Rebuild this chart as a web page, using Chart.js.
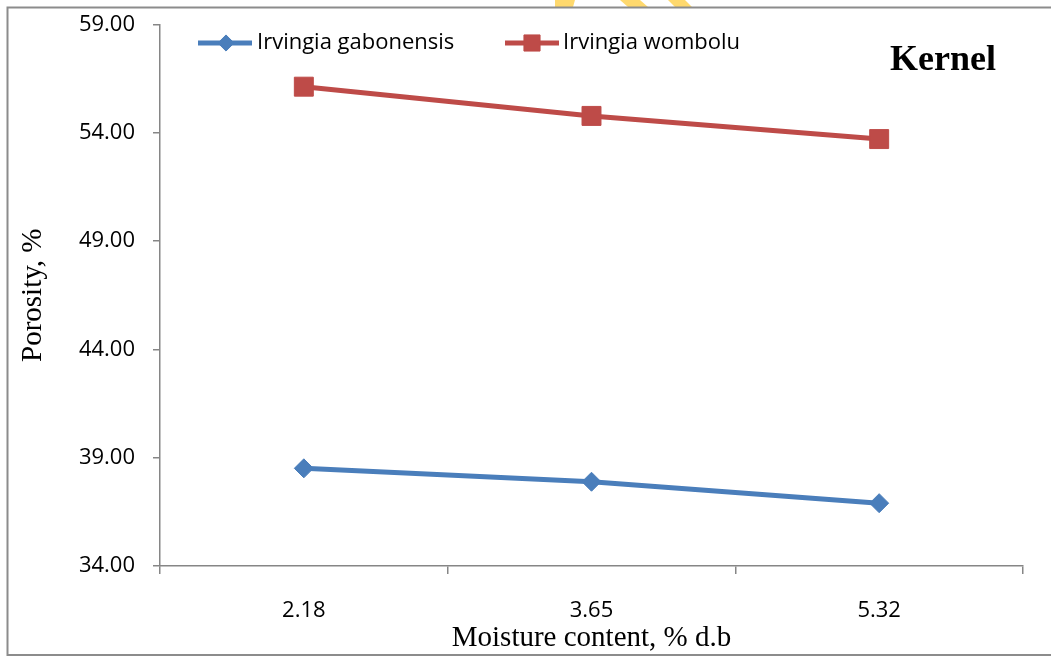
<!DOCTYPE html>
<html>
<head>
<meta charset="utf-8">
<script src="https://cdn.jsdelivr.net/npm/chart.js@4.4.1/dist/chart.umd.min.js"></script>
<style>
  html, body { margin: 0; padding: 0; background: #ffffff; }
  #wrap { width: 1051px; height: 656px; position: relative; }
</style>
</head>
<body>
<div id="wrap"><canvas id="c" width="1051" height="656"></canvas></div>
<script>
const categories = ['2.18', '3.65', '5.32'];
const gabonensis = [38.51, 37.89, 36.90];
const wombolu = [56.13, 54.78, 53.71];
const seriesNames = ['Irvingia gabonensis', 'Irvingia wombolu'];
const yTicks = { min: 34, max: 59, step: 5 };
const chartTitle = 'Kernel';
const xTitle = 'Moisture content, % d.b';
const yTitle = 'Porosity, %';

const BLUE = '#4A7EBB';
const RED = '#BE4B48';
const AXIS = '#868686';
const TICKFONT = { family: '"Open Sans", sans-serif', size: 22 };

const framePlugin = {
  id: 'frame',
  beforeDraw(chart) {
    const ctx = chart.ctx;
    ctx.save();
    ctx.fillStyle = '#ffffff';
    ctx.fillRect(0, 0, chart.width, chart.height);
    ctx.fillStyle = '#FFD96E';
    [[[555,0],[575,0],[573,7],[555,7]],
     [[620,0],[640,0],[648,7],[628,7]],
     [[668,0],[685,0],[692,7],[675,7]]].forEach(poly => {
      ctx.beginPath();
      ctx.moveTo(poly[0][0], poly[0][1]);
      for (let i = 1; i < poly.length; i++) ctx.lineTo(poly[i][0], poly[i][1]);
      ctx.closePath();
      ctx.fill();
    });
    ctx.strokeStyle = '#8C8C8C';
    ctx.lineWidth = 2;
    ctx.beginPath();
    ctx.moveTo(1051, 7.5);
    ctx.lineTo(7.5, 7.5);
    ctx.lineTo(7.5, 655);
    ctx.lineTo(1051, 655);
    ctx.stroke();
    ctx.restore();
  },
  afterDraw(chart) {
    const ctx = chart.ctx;
    ctx.save();
    const items = [
      { x0: 198, x1: 252, mx: 226, tx: 257 },
      { x0: 505, x1: 559, mx: 532, tx: 563 }
    ];
    const ly = 43;
    chart.data.datasets.forEach((ds, i) => {
      const it = items[i];
      ctx.strokeStyle = ds.borderColor;
      ctx.lineWidth = ds.borderWidth;
      ctx.beginPath();
      ctx.moveTo(it.x0, ly);
      ctx.lineTo(it.x1, ly);
      ctx.stroke();
      ctx.fillStyle = ds.pointBackgroundColor;
      ctx.strokeStyle = ds.pointBorderColor;
      ctx.lineWidth = 1;
      Chart.helpers.drawPoint(ctx, {
        pointStyle: ds.pointStyle,
        radius: ds.pointRadius * 0.85,
        rotation: 0,
        borderWidth: 1
      }, it.mx, ly);
      ctx.fillStyle = '#000000';
      ctx.font = '22px "Open Sans", sans-serif';
      ctx.textAlign = 'left';
      ctx.textBaseline = 'middle';
      ctx.fillText(ds.label, it.tx, ly);
    });
    ctx.font = 'bold 36px "Liberation Serif", "Times New Roman", serif';
    ctx.textAlign = 'left';
    ctx.textBaseline = 'alphabetic';
    ctx.fillStyle = '#000000';
    ctx.fillText(chartTitle, 890, 70);
    ctx.restore();
  }
};

new Chart(document.getElementById('c'), {
  type: 'line',
  data: {
    labels: categories,
    datasets: [
      {
        label: seriesNames[0],
        data: gabonensis,
        borderColor: BLUE,
        backgroundColor: BLUE,
        borderWidth: 5,
        pointStyle: 'rectRot',
        pointRadius: 9.5,
        pointBackgroundColor: BLUE,
        pointBorderColor: BLUE,
        pointBorderWidth: 1,
        tension: 0,
        fill: false
      },
      {
        label: seriesNames[1],
        data: wombolu,
        borderColor: RED,
        backgroundColor: RED,
        borderWidth: 5,
        pointStyle: 'rect',
        pointRadius: 13.4,
        pointBackgroundColor: RED,
        pointBorderColor: RED,
        pointBorderWidth: 1,
        tension: 0,
        fill: false
      }
    ]
  },
  options: {
    responsive: false,
    animation: false,
    devicePixelRatio: 1,
    layout: { padding: { top: 24.5, right: 28, bottom: 0, left: 0 } },
    plugins: {
      legend: { display: false },
      tooltip: { enabled: false },
      title: { display: false }
    },
    scales: {
      x: {
        type: 'category',
        offset: true,
        grid: {
          offset: true,
          drawOnChartArea: false,
          drawTicks: true,
          tickLength: 8,
          color: AXIS,
          lineWidth: 1.5
        },
        border: { display: true, color: AXIS, width: 1.5 },
        ticks: { color: '#000000', font: TICKFONT, padding: 24, maxRotation: 0 },
        title: {
          display: true,
          text: xTitle,
          color: '#000000',
          font: { family: '"Liberation Serif", "Times New Roman", serif', size: 29 },
          padding: { top: 0, bottom: 0 }
        },
        afterFit(scale) {
          scale.height = 90;
          scale.paddingLeft = 0; scale.paddingRight = 0;
          scale.paddingTop = 0; scale.paddingBottom = 0;
        }
      },
      y: {
        min: yTicks.min,
        max: yTicks.max,
        grid: {
          drawOnChartArea: false,
          drawTicks: true,
          tickLength: 7,
          color: AXIS,
          lineWidth: 1.5
        },
        border: { display: true, color: AXIS, width: 1.5 },
        ticks: {
          stepSize: yTicks.step,
          color: '#000000',
          font: TICKFONT,
          padding: 18,
          callback: v => Number(v).toFixed(2)
        },
        title: {
          display: true,
          text: yTitle,
          color: '#000000',
          font: { family: '"Liberation Serif", "Times New Roman", serif', size: 29 },
          padding: { top: 16, bottom: 0 }
        },
        afterFit(scale) {
          scale.width = 160;
          scale.paddingTop = 0; scale.paddingBottom = 0;
          scale.paddingLeft = 0; scale.paddingRight = 0;
        }
      }
    }
  },
  plugins: [framePlugin]
});
</script>
</body>
</html>
